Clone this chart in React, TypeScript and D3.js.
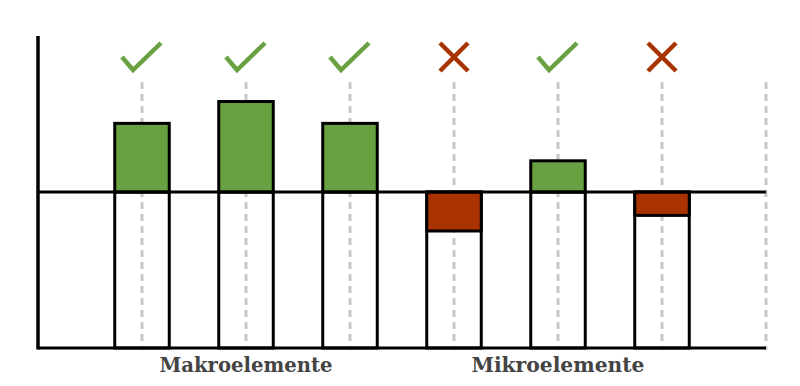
import * as d3 from 'd3';
import { useEffect, useRef } from 'react';

// Data
const elements = ['e1', 'e2', 'e3', 'e4', 'e5', 'e6', 'end'];
const values = [0.44, 0.58, 0.44, -0.25, 0.2, -0.15];
const passed = [true, true, true, false, true, false];
const groups = [
  { label: 'Makroelemente', from: 0, to: 2 },
  { label: 'Mikroelemente', from: 3, to: 5 },
];

const GREEN = '#67a141';
const RED = '#a83300';

export default function App() {
  const svgRef = useRef<SVGSVGElement>(null);
  const width = 800;
  const height = 386;

  useEffect(() => {
    if (!svgRef.current) return;
    const svg = d3.select(svgRef.current);
    svg.selectAll('*').remove();

    const x = d3.scalePoint<string>().domain(elements).range([142, 766]);
    const y = d3.scaleLinear().domain([-1, 1]).range([348, 36]);
    const barW = 54.5;

    // dashed guides
    svg.append('g')
      .selectAll('line')
      .data(elements)
      .enter()
      .append('line')
      .attr('x1', d => x(d)!)
      .attr('x2', d => x(d)!)
      .attr('y1', 82)
      .attr('y2', y(-1) + 2)
      .attr('stroke', '#c8c8c8')
      .attr('stroke-width', 3)
      .attr('stroke-dasharray', '7,5');

    const bars = values.map((v, i) => ({ v, i, key: elements[i], ok: passed[i] }));

    // hollow lower bars
    svg.append('g')
      .selectAll('rect')
      .data(bars)
      .enter()
      .append('rect')
      .attr('x', d => x(d.key)! - barW / 2)
      .attr('y', y(0))
      .attr('width', barW)
      .attr('height', y(-1) - y(0))
      .attr('fill', 'none')
      .attr('stroke', '#000')
      .attr('stroke-width', 3);

    // value bars
    svg.append('g')
      .selectAll('rect')
      .data(bars)
      .enter()
      .append('rect')
      .attr('x', d => x(d.key)! - barW / 2)
      .attr('y', d => Math.min(y(d.v), y(0)))
      .attr('width', barW)
      .attr('height', d => Math.abs(y(d.v) - y(0)))
      .attr('fill', d => (d.v >= 0 ? GREEN : RED))
      .attr('stroke', '#000')
      .attr('stroke-width', 3);

    // axes lines
    svg.append('line')
      .attr('x1', 38).attr('x2', 766)
      .attr('y1', y(0)).attr('y2', y(0))
      .attr('stroke', '#000').attr('stroke-width', 3);
    svg.append('line')
      .attr('x1', 38).attr('x2', 766)
      .attr('y1', y(-1)).attr('y2', y(-1))
      .attr('stroke', '#000').attr('stroke-width', 3);
    svg.append('line')
      .attr('x1', 38).attr('x2', 38)
      .attr('y1', y(1)).attr('y2', y(-1) + 1.5)
      .attr('stroke', '#000').attr('stroke-width', 3.5);

    // check / cross marks
    const marks = svg.append('g');
    bars.forEach(d => {
      const cx = x(d.key)!;
      const cy = 57;
      if (d.ok) {
        marks.append('path')
          .attr('d', `M${cx - 20},${cy} L${cx - 9},${cy + 13} L${cx + 19},${cy - 14}`)
          .attr('fill', 'none')
          .attr('stroke', GREEN)
          .attr('stroke-width', 4.5);
      } else {
        marks.append('path')
          .attr('d', `M${cx - 14},${cy - 14} L${cx + 14},${cy + 14} M${cx + 14},${cy - 14} L${cx - 14},${cy + 14}`)
          .attr('fill', 'none')
          .attr('stroke', RED)
          .attr('stroke-width', 4.5);
      }
    });

    // group labels
    svg.append('g')
      .selectAll('text')
      .data(groups)
      .enter()
      .append('text')
      .attr('x', g => (x(elements[g.from])! + x(elements[g.to])!) / 2)
      .attr('y', 372)
      .attr('text-anchor', 'middle')
      .attr('textLength', 173)
      .attr('lengthAdjust', 'spacingAndGlyphs')
      .style('font-family', '"DejaVu Serif", serif')
      .style('font-weight', 'bold')
      .style('font-size', '20px')
      .style('fill', '#444')
      .text(g => g.label);
  }, []);

  return (
    <svg
      ref={svgRef}
      width={width}
      height={height}
      style={{ position: 'absolute', left: 0, top: 0, background: '#fff' }}
    />
  );
}
